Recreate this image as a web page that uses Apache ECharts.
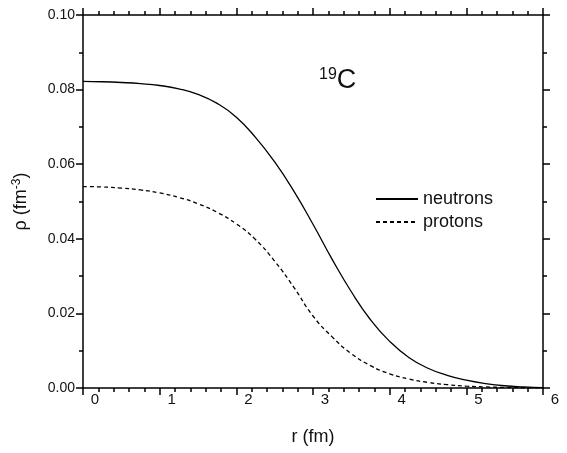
<!DOCTYPE html>
<html>
<head>
<meta charset="utf-8">
<script src="https://cdn.jsdelivr.net/npm/echarts@6/dist/echarts.min.js"></script>
<style>
  html, body { margin: 0; padding: 0; background: #fff; }
  #main { width: 567px; height: 453px; }
</style>
</head>
<body>
<div id="main"></div>
<script>
// radius grid (fm)
var rValues = [0, 0.25, 0.5, 0.75, 1.0, 1.25, 1.5, 1.75, 2.0, 2.25, 2.5, 2.75, 3.0,
  3.25, 3.5, 3.75, 4.0, 4.25, 4.5, 4.75, 5.0, 5.25, 5.5, 5.75, 6.0];
// density, fm^-3
var neutrons = [0.0822, 0.0821, 0.0819, 0.0816, 0.0811, 0.0802, 0.0787, 0.0763, 0.0726,
  0.0672, 0.0606, 0.0528, 0.0439, 0.0345, 0.0258, 0.0183, 0.0125, 0.0082, 0.0053,
  0.0034, 0.0021, 0.0012, 0.0006, 0.0003, 0.0001];
var protons = [0.0540, 0.0539, 0.0536, 0.0531, 0.0523, 0.0511, 0.0494, 0.0471, 0.0440,
  0.0398, 0.0340, 0.0270, 0.0193, 0.0137, 0.0092, 0.0060, 0.0038, 0.0024, 0.0015,
  0.0009, 0.0005, 0.0003, 0.00015, 0.00007, 0.00003];
var seriesNames = ['neutrons', 'protons'];

var FONT = 'Liberation Sans, Arial, sans-serif';
var chart = echarts.init(document.getElementById('main'), null, {renderer: 'canvas'});

function pairs(ys) {
  return rValues.map(function (r, i) { return [r, ys[i]]; });
}

var axisLine = {show: true, onZero: false, lineStyle: {color: '#000', width: 1.5}};
var tick = {show: true, length: 7, lineStyle: {color: '#000', width: 1.5}};

var option = {
  backgroundColor: '#fff',
  animation: false,
  title: {
    text: '{sup|19}{big|C}',
    left: 314,
    top: 62,
    textStyle: {
      fontWeight: 'normal',
      rich: {
        sup: {fontSize: 16, fontFamily: FONT, fontWeight: 'normal', color: '#111', verticalAlign: 'top', padding: [0, 0, 10, 0]},
        big: {fontSize: 27, fontFamily: FONT, fontWeight: 'normal', color: '#111'}
      }
    }
  },
  legend: {
    data: seriesNames,
    orient: 'vertical',
    left: 370,
    top: 185,
    itemWidth: 42,
    itemHeight: 14,
    itemGap: 5,
    itemStyle: {opacity: 0},
    textStyle: {fontSize: 18, fontFamily: FONT, color: '#111'}
  },
  grid: {left: 83, right: 24, top: 15, bottom: 65},
  xAxis: [{
    type: 'value',
    min: 0,
    max: 6,
    interval: 1,
    name: 'r (fm)',
    nameLocation: 'middle',
    nameGap: 40,
    nameTextStyle: {fontSize: 18, fontFamily: FONT, color: '#111'},
    axisLine: axisLine,
    axisTick: tick,
    minorTick: {show: true, splitNumber: 5, length: 4, lineStyle: {color: '#000', width: 1.5}},
    axisLabel: {fontSize: 15, fontFamily: FONT, color: '#111', margin: 4, padding: [0, 0, 0, 24]},
    splitLine: {show: false}
  }, {
    type: 'value',
    position: 'top',
    min: 0,
    max: 6,
    interval: 1,
    axisLine: axisLine,
    axisTick: tick,
    minorTick: {show: true, splitNumber: 5, length: 4, lineStyle: {color: '#000', width: 1.5}},
    axisLabel: {show: false},
    splitLine: {show: false}
  }],
  yAxis: [{
    type: 'value',
    min: 0,
    max: 0.1,
    interval: 0.02,
    name: '{a|ρ (fm}{s|-3}{a|)}',
    nameLocation: 'middle',
    nameGap: 52,
    nameRotate: 90,
    nameTextStyle: {
      rich: {
        a: {fontSize: 18, fontFamily: FONT, color: '#111'},
        s: {fontSize: 12, fontFamily: FONT, color: '#111', verticalAlign: 'top', padding: [0, 0, 8, 0]}
      }
    },
    axisLine: axisLine,
    axisTick: tick,
    minorTick: {show: true, splitNumber: 2, length: 4, lineStyle: {color: '#000', width: 1.5}},
    axisLabel: {
      fontSize: 14, fontFamily: FONT, color: '#111', margin: 8,
      formatter: function (v) { return v.toFixed(2); }
    },
    splitLine: {show: false}
  }, {
    type: 'value',
    position: 'right',
    min: 0,
    max: 0.1,
    interval: 0.02,
    axisLine: axisLine,
    axisTick: tick,
    minorTick: {show: true, splitNumber: 2, length: 4, lineStyle: {color: '#000', width: 1.5}},
    axisLabel: {show: false},
    splitLine: {show: false}
  }],
  series: [{
    name: seriesNames[0],
    type: 'line',
    data: pairs(neutrons),
    symbol: 'none',
    smooth: 0.5,
    color: '#000',
    lineStyle: {color: '#000', width: 1.3, type: 'solid'}
  }, {
    name: seriesNames[1],
    type: 'line',
    data: pairs(protons),
    symbol: 'none',
    smooth: 0.5,
    color: '#000',
    lineStyle: {color: '#000', width: 1.3, type: [4, 3]}
  }]
};

chart.setOption(option);
</script>
</body>
</html>
